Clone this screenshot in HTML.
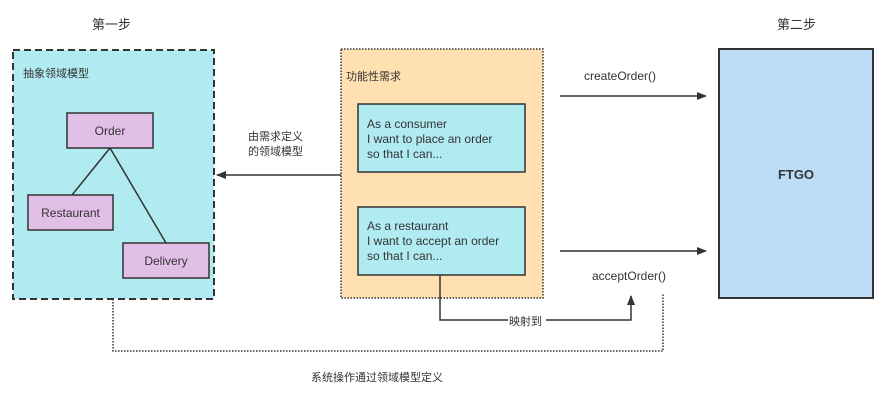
<!DOCTYPE html>
<html><head><meta charset="utf-8"><style>
body{margin:0;width:889px;height:403px;background:#fff;overflow:hidden}
svg text{font-family:"Liberation Sans","Noto Sans CJK SC",sans-serif;fill:#333}
</style></head><body>
<svg width="889" height="403" xmlns="http://www.w3.org/2000/svg">
<defs><marker id="a" markerWidth="10" markerHeight="8" refX="9" refY="4" orient="auto" markerUnits="userSpaceOnUse"><path d="M0,0 L10,4 L0,8 Z" fill="#333"/></marker></defs>
<text x="92" y="29" font-size="13">第一步</text>
<text x="777" y="29" font-size="13">第二步</text>
<rect x="13" y="50" width="201" height="249" fill="#b1ebf2" stroke="#333" stroke-width="2" stroke-dasharray="7,4"/>
<text x="23" y="77" font-size="11">抽象领域模型</text>
<line x1="110" y1="148" x2="72" y2="195" stroke="#333" stroke-width="1.5"/>
<line x1="110" y1="148" x2="166" y2="243" stroke="#333" stroke-width="1.5"/>
<rect x="67" y="113" width="86" height="35" fill="#e1bfe6" stroke="#333" stroke-width="1.5"/>
<text x="110" y="135" font-size="12" text-anchor="middle">Order</text>
<rect x="28" y="195" width="85" height="35" fill="#e1bfe6" stroke="#333" stroke-width="1.5"/>
<text x="70.5" y="217" font-size="12" text-anchor="middle">Restaurant</text>
<rect x="123" y="243" width="86" height="35" fill="#e1bfe6" stroke="#333" stroke-width="1.5"/>
<text x="166" y="265" font-size="12" text-anchor="middle">Delivery</text>
<rect x="341" y="49" width="202" height="249" fill="#ffe0b0" stroke="#333" stroke-width="1.5" stroke-dasharray="1.5,1.5"/>
<text x="346" y="80" font-size="11">功能性需求</text>
<rect x="358" y="104" width="167" height="68" fill="#b1ebf2" stroke="#333" stroke-width="1.5"/>
<text x="367" y="128" font-size="12">As a consumer</text>
<text x="367" y="143" font-size="12">I want to place an order</text>
<text x="367" y="158" font-size="12">so that I can...</text>
<rect x="358" y="207" width="167" height="68" fill="#b1ebf2" stroke="#333" stroke-width="1.5"/>
<text x="367" y="230" font-size="12">As a restaurant</text>
<text x="367" y="245" font-size="12">I want to accept an order</text>
<text x="367" y="260" font-size="12">so that I can...</text>
<line x1="341" y1="175" x2="217" y2="175" stroke="#333" stroke-width="1.5" marker-end="url(#a)"/>
<text x="248" y="140" font-size="11">由需求定义</text>
<text x="248" y="155" font-size="11">的领域模型</text>
<text x="584" y="80" font-size="12">createOrder()</text>
<line x1="560" y1="96" x2="706" y2="96" stroke="#333" stroke-width="1.5" marker-end="url(#a)"/>
<line x1="560" y1="251" x2="706" y2="251" stroke="#333" stroke-width="1.5" marker-end="url(#a)"/>
<text x="592" y="280" font-size="12">acceptOrder()</text>
<rect x="719" y="49" width="154" height="249" fill="#bcdcf7" stroke="#333" stroke-width="2"/>
<text x="796" y="179" font-size="13" font-weight="bold" text-anchor="middle">FTGO</text>
<polyline points="440,275 440,320 631,320 631,296" fill="none" stroke="#333" stroke-width="1.5" marker-end="url(#a)"/>
<rect x="508" y="314" width="38" height="13" fill="#fff"/>
<text x="509" y="325" font-size="11">映射到</text>
<polyline points="113,299 113,351 663,351 663,293" fill="none" stroke="#333" stroke-width="1.5" stroke-dasharray="1.5,1.5"/>
<text x="311" y="381" font-size="11">系统操作通过领域模型定义</text>
</svg>
</body></html>
